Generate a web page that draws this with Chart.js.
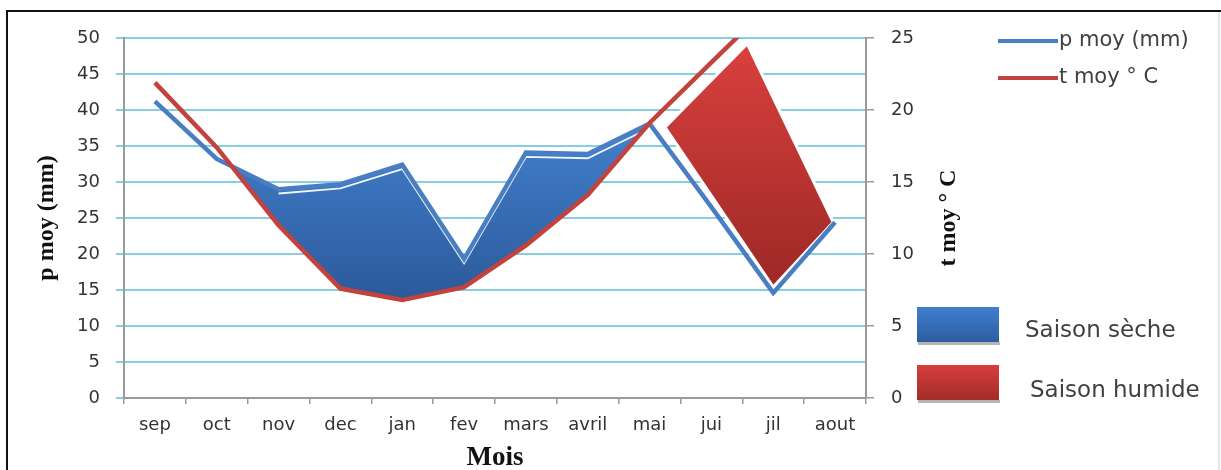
<!DOCTYPE html>
<html>
<head>
<meta charset="utf-8">
<script src="https://cdn.jsdelivr.net/npm/chart.js@4.4.1/dist/chart.umd.min.js"></script>
<style>
  html, body { margin: 0; padding: 0; background: #fff; }
  #wrap { position: relative; width: 1221px; height: 470px; }
</style>
</head>
<body>
<div id="wrap"><canvas id="c"></canvas></div>
<script>
// ---- data ----
const months = ['sep', 'oct', 'nov', 'dec', 'jan', 'fev', 'mars', 'avril', 'mai', 'jui', 'jil', 'aout'];
const precipitation = [41.2, 33.2, 29.0, 29.7, 32.4, 19.3, 34.1, 33.9, 38.1, 26.5, 14.6, 24.4];   // p moy (mm)
const temperature   = [21.9, 17.4, 12.0, 7.6, 6.8, 7.7, 10.6, 14.1, 19.1, 23.3, 27.5, 26.5];    // t moy °C
// wet-season shape (month index, mm)
const wetSeasonX = [8.25, 9.58, 10.97, 10.0, 8.25];
const wetSeasonY = [37.6, 49.2, 24.4, 15.4, 37.6];
// ticks
const pTicks = [0, 5, 10, 15, 20, 25, 30, 35, 40, 45, 50];
const tTicks = [0, 5, 10, 15, 20, 25];
// texts
const yTitle = 'p moy (mm)';
const y2Title = 't moy ° C';
const xTitle = 'Mois';
const lineLegend = ['p moy (mm)', 't moy ° C'];
const seasonLegend = ['Saison sèche', 'Saison humide'];
const dryMonths = [2, 8]; // first and last month index of the highlighted dry area

// ---- styles ----
const BLUE = '#4a7ec4';
const RED = '#c4423e';
const GRID = '#88cde0';
const AXIS = '#9a9a9a';
const FONT = '"DejaVu Sans", Verdana, sans-serif';
const SERIF = '"Liberation Serif", "Times New Roman", serif';

function vGrad(chart, c1, c2, fromTop, toBottom) {
  const a = chart.chartArea;
  if (!a) return c1;
  const g = chart.ctx.createLinearGradient(0, a.top + (a.bottom - a.top) * fromTop, 0, a.top + (a.bottom - a.top) * toBottom);
  g.addColorStop(0, c1);
  g.addColorStop(1, c2);
  return g;
}

const decor = {
  id: 'decor',
  beforeDraw(chart) {
    const { ctx, width, height } = chart;
    ctx.save();
    ctx.fillStyle = '#fff';
    ctx.fillRect(0, 0, width, height);
    ctx.strokeStyle = '#dcdcdc';
    ctx.lineWidth = 1.5;
    ctx.beginPath(); ctx.moveTo(width - 2, 12); ctx.lineTo(width - 2, height); ctx.stroke();
    ctx.strokeStyle = '#111';
    ctx.lineWidth = 2;
    ctx.beginPath(); ctx.moveTo(7, height); ctx.lineTo(7, 11); ctx.lineTo(width, 11); ctx.stroke();
    ctx.restore();
  },
  afterDraw(chart) {
    const { ctx, chartArea: a } = chart;
    const midY = (a.top + a.bottom) / 2;
    ctx.save();
    ctx.fillStyle = '#111';
    ctx.textAlign = 'center';
    ctx.textBaseline = 'alphabetic';
    ctx.font = 'bold 24px ' + SERIF;
    ctx.save(); ctx.translate(53, midY); ctx.rotate(-Math.PI / 2); ctx.fillText(yTitle, 0, 0); ctx.restore();
    ctx.save(); ctx.translate(955, midY); ctx.rotate(-Math.PI / 2); ctx.fillText(y2Title, 0, 0); ctx.restore();
    ctx.font = 'bold 27px ' + SERIF;
    ctx.fillText(xTitle, (a.left + a.right) / 2, 465);

    // line legend
    ctx.textAlign = 'left';
    ctx.textBaseline = 'middle';
    ctx.font = '21px ' + FONT;
    const lineCols = [BLUE, RED];
    lineLegend.forEach((t, i) => {
      const y = 41 + i * 37;
      ctx.strokeStyle = lineCols[i];
      ctx.lineWidth = 4;
      ctx.beginPath(); ctx.moveTo(998, y); ctx.lineTo(1058, y); ctx.stroke();
      ctx.fillStyle = '#404040';
      ctx.fillText(t, 1059, y);
    });

    // season legend
    const seasonCols = [['#3f7fcf', '#2c5e9f'], ['#d63f3c', '#a32c29']];
    ctx.font = '23px ' + FONT;
    seasonLegend.forEach((t, i) => {
      const top = 307 + i * 58, h = 35;
      ctx.fillStyle = '#b5b5b5';
      ctx.fillRect(918, top + h, 82, 3);
      const g = ctx.createLinearGradient(0, top, 0, top + h);
      g.addColorStop(0, seasonCols[i][0]);
      g.addColorStop(1, seasonCols[i][1]);
      ctx.fillStyle = g;
      ctx.fillRect(917, top, 82, h);
      ctx.fillStyle = '#404040';
      ctx.fillText(t, 1025 + i * 5, top + 24 + i * 2);
    });
    ctx.restore();
  }
};

new Chart(document.getElementById('c'), {
  type: 'line',
  data: {
    labels: months,
    datasets: [
      {
        label: lineLegend[0],
        data: precipitation,
        yAxisID: 'y',
        borderColor: BLUE,
        borderWidth: 4.5,
        pointRadius: 0,
        tension: 0,
        order: 1,
        backgroundColor: (c) => vGrad(c.chart, '#427fcc', '#2a5898', 0.25, 0.75),
        fill: { target: 1, below: 'rgba(0,0,0,0)' }
      },
      {
        label: lineLegend[1],
        data: temperature,
        yAxisID: 'y2',
        borderColor: RED,
        borderWidth: 4.5,
        pointRadius: 0,
        tension: 0,
        order: 0,
        fill: false
      },
      {
        label: 'highlight',
        data: precipitation.map((v, i) => (i >= dryMonths[0] && i <= dryMonths[1]) ? v - 0.6 : null),
        yAxisID: 'y',
        borderColor: 'rgba(255,255,255,0.92)',
        borderWidth: 1.8,
        pointRadius: 0,
        tension: 0,
        order: 2,
        fill: false
      },
      {
        label: seasonLegend[1],
        data: wetSeasonX.map((x, i) => ({ x, y: wetSeasonY[i] })),
        xAxisID: 'xp',
        yAxisID: 'y',
        borderColor: '#ffffff',
        borderWidth: 3,
        pointRadius: 0,
        tension: 0,
        order: 3,
        backgroundColor: (c) => vGrad(c.chart, '#d63f3c', '#9c2826', 0.05, 0.7),
        fill: 'shape'
      }
    ]
  },
  options: {
    responsive: true,
    maintainAspectRatio: false,
    animation: false,
    layout: { padding: { top: 38, left: 0, right: 0, bottom: 0 } },
    plugins: {
      legend: { display: false },
      tooltip: { enabled: false },
      filler: { drawTime: 'beforeDatasetsDraw', propagate: false }
    },
    scales: {
      x: {
        type: 'category',
        offset: true,
        grid: { drawOnChartArea: false, offset: true, tickLength: 6, color: AXIS, lineWidth: 1.5 },
        border: { color: AXIS, width: 2 },
        ticks: { color: '#333', font: { family: FONT, size: 18 }, padding: 11, autoSkip: false, maxRotation: 0 },
        afterFit: (s) => { s.height = 72; }
      },
      xp: {
        type: 'linear',
        display: false,
        min: -0.5,
        max: months.length - 0.5
      },
      y: {
        position: 'left',
        min: pTicks[0],
        max: pTicks[pTicks.length - 1],
        afterBuildTicks: (s) => { s.ticks = pTicks.map(v => ({ value: v })); },
        grid: { color: GRID, lineWidth: 2, tickLength: 8 },
        border: { color: AXIS, width: 2 },
        ticks: { color: '#333', font: { family: FONT, size: 18 }, padding: 16 },
        afterFit: (s) => { s.width = 124; }
      },
      y2: {
        position: 'right',
        min: tTicks[0],
        max: tTicks[tTicks.length - 1],
        afterBuildTicks: (s) => { s.ticks = tTicks.map(v => ({ value: v })); },
        grid: { drawOnChartArea: false, color: AXIS, lineWidth: 1.5, tickLength: 8 },
        border: { color: AXIS, width: 2 },
        ticks: { color: '#333', font: { family: FONT, size: 18 }, padding: 17 },
        afterFit: (s) => { s.width = 355; }
      }
    }
  },
  plugins: [decor]
});
</script>
</body>
</html>
